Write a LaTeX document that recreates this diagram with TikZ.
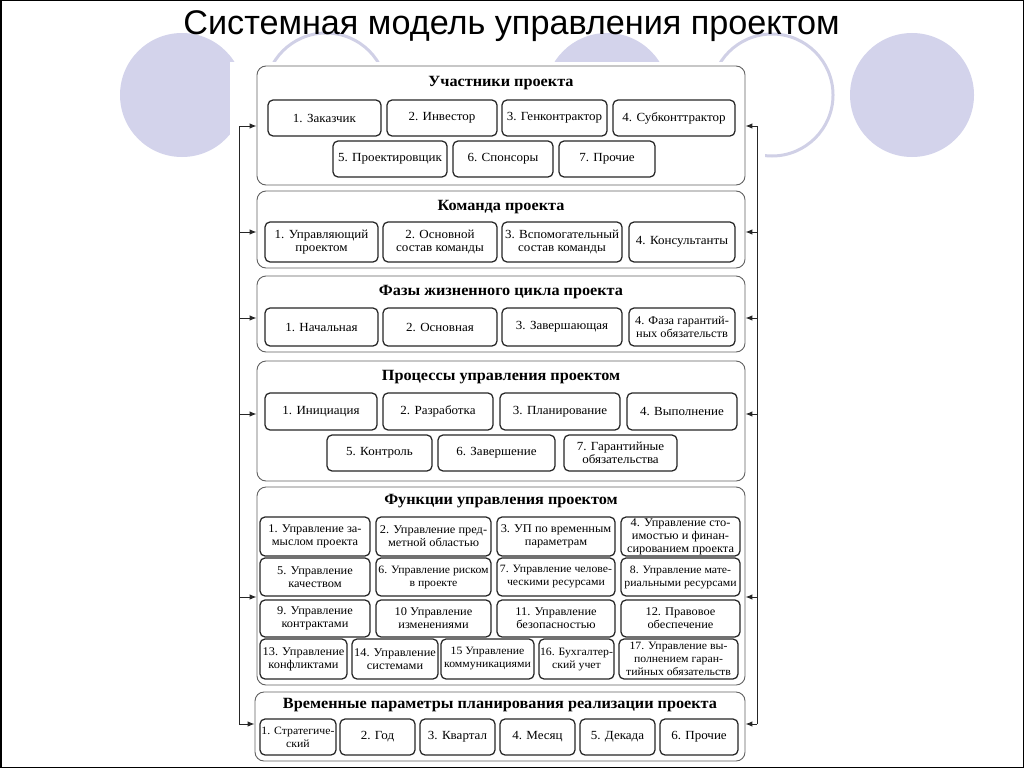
\documentclass[tikz,border=0pt]{standalone}
\usepackage{fontspec}
\setmainfont{Liberation Serif}
\newfontfamily\slidefont{Liberation Sans}
\newfontfamily\scanfont[FakeStretch=1.05]{Liberation Serif}
\newfontfamily\scantitle[FakeStretch=1.04]{Liberation Serif}
\usetikzlibrary{arrows.meta}
\definecolor{lav}{RGB}{211,211,235}
\definecolor{lavring}{RGB}{208,208,230}
\newcommand\IB[7][item]{%
 \pgfmathsetmacro\ibcx{(#3+#4)/2}\pgfmathsetmacro\ibcy{(#5+#6)/2}%
 \pgfmathsetmacro\ibww{#4-#3}\pgfmathsetmacro\ibhh{#6-#5}%
 \node[#1, minimum width=\ibww pt, minimum height=\ibhh pt] (#2) at (\ibcx,\ibcy) {#7};}
\newcommand\SB[7]{%
 \pgfmathsetmacro\ibcx{(#2+#3)/2}\pgfmathsetmacro\ibcy{(#4+#5)/2}%
 \pgfmathsetmacro\ibww{#3-#2}\pgfmathsetmacro\ibhh{#5-#4}%
 \node[sect, minimum width=\ibww pt, minimum height=\ibhh pt] (#1) at (\ibcx,\ibcy) {};
 \node[stitle] (#1t) at (\ibcx,#7) {#6};}
\begin{document}
\begin{tikzpicture}[x=1pt,y=-1pt,
  sect/.style={draw=black!62, line width=0.9pt, rounded corners=9pt, inner sep=0pt},
  ibase/.style={draw=black!85, line width=1.25pt, rounded corners=5pt, inner sep=0pt, align=center},
  item/.style={ibase, font=\scanfont\fontsize{12.4}{13.5}\selectfont},
  fitem/.style={ibase, font=\scanfont\fontsize{11.8}{13}\selectfont},
  sitem/.style={ibase, font=\scanfont\fontsize{11.2}{13}\selectfont},
  stitle/.style={font=\scantitle\fontsize{15.6}{17}\selectfont\bfseries, inner sep=0pt},
  conn/.style={line width=1pt, black!85},
  arr/.style={conn, -{Latex[length=7pt,width=5.5pt]}},
  ring/.style={draw=lavring, line width=3pt},
  disc/.style={fill=lav}]
\useasboundingbox (0,0) rectangle (1024,768);
% background circles
\fill[disc] (182,95) circle (62);
\draw[ring] (326,94) circle (61);
\fill[disc] (607,95) circle (62);
\draw[ring] (772,95) circle (61);
\fill[disc] (912,95) circle (62);
% white scanned page
\fill[white] (230,62) rectangle (765,767);
% title
\node[font=\slidefont\fontsize{34.2}{37}\selectfont, anchor=base, inner sep=0pt] (title) at (511.5,35) {Системная модель управления проектом};
% sections
\SB{s1}{257}{745}{66}{185}{Участники проекта}{83}
\SB{s2}{257}{745}{191}{268}{Команда проекта}{207}
\SB{s3}{257}{745}{276}{352}{Фазы жизненного цикла проекта}{292}
\SB{s4}{257}{745}{361}{481}{Процессы управления проектом}{377}
\SB{s5}{257}{745}{487}{685}{Функции управления проектом}{501}
\SB{s6}{255}{745}{692}{761}{Временные параметры планирования реализации проекта}{705}
% S1
\IB{a1}{268}{381}{100}{136}{1. Заказчик}
\IB{a2}{387}{497}{100}{136}{2. Инвестор}
\IB{a3}{502}{607}{100}{136}{3. Генконтрактор}
\IB{a4}{613}{735}{100}{136}{4. Субконттрактор}
\IB{a5}{333}{447}{141}{177}{5. Проектировщик}
\IB{a6}{453}{553}{141}{177}{6. Спонсоры}
\IB{a7}{559}{655}{141}{177}{7. Прочие}
% S2
\IB{b1}{265}{378}{222}{262}{1. Управляющий\\проектом}
\IB{b2}{383}{497}{222}{262}{2. Основной\\состав команды}
\IB{b3}{502}{622}{222}{262}{3. Вспомогательный\\состав команды}
\IB{b4}{629}{735}{222}{262}{4. Консультанты}
% S3
\IB{c1}{265}{378}{308}{346}{1. Начальная}
\IB{c2}{383}{497}{308}{346}{2. Основная}
\IB{c3}{502}{622}{308}{346}{3. Завершающая}
\IB[fitem]{c4}{629}{735}{308}{346}{4. Фаза гарантий-\\ных обязательств}
% S4
\IB{d1}{265}{377}{393}{430}{1. Инициация}
\IB{d2}{383}{493}{393}{430}{2. Разработка}
\IB{d3}{500}{620}{393}{430}{3. Планирование}
\IB{d4}{627}{737}{393}{430}{4. Выполнение}
\IB{d5}{327}{432}{435}{471}{5. Контроль}
\IB{d6}{438}{555}{435}{471}{6. Завершение}
\IB{d7}{564}{677}{435}{471}{7. Гарантийные\\обязательства}
% S5
\IB[fitem]{e1}{260}{370}{517}{556}{1. Управление за-\\мыслом проекта}
\IB[fitem]{e2}{376}{491}{517}{556}{2. Управление пред-\\метной областью}
\IB[fitem]{e3}{497}{615}{517}{556}{3. УП по временным\\параметрам}
\IB[fitem]{e4}{621}{740}{517}{556}{4. Управление сто-\\имостью и финан-\\сированием проекта}
\IB[fitem]{e5}{260}{370}{558}{596}{5. Управление\\качеством}
\IB[sitem]{e6}{376}{491}{558}{596}{6. Управление риском\\в проекте}
\IB[sitem]{e7}{497}{615}{558}{596}{7. Управление челове-\\ческими ресурсами}
\IB[sitem]{e8}{621}{740}{558}{596}{8. Управление мате-\\риальными ресурсами}
\IB[fitem]{e9}{260}{370}{600}{637}{9. Управление\\контрактами}
\IB[fitem]{e10}{376}{491}{600}{637}{10 Управление\\изменениями}
\IB[fitem]{e11}{497}{615}{600}{637}{11. Управление\\безопасностью}
\IB[fitem]{e12}{621}{740}{600}{637}{12. Правовое\\обеспечение}
\IB[fitem]{e13}{260}{347}{639}{679}{13. Управление\\конфликтами}
\IB[fitem]{e14}{352}{438}{639}{679}{14. Управление\\системами}
\IB[sitem]{e15}{441}{534}{639}{679}{15 Управление\\коммуникациями}
\IB[sitem]{e16}{539}{614}{639}{679}{16. Бухгалтер-\\ский учет}
\IB[sitem]{e17}{619}{738}{639}{679}{17. Управление вы-\\полнением гаран-\\тийных обязательств}
% S6
\IB[sitem]{f1}{260}{336}{719}{755}{1. Стратегиче-\\ский}
\IB{f2}{340}{415}{719}{755}{2. Год}
\IB{f3}{420}{495}{719}{755}{3. Квартал}
\IB{f4}{500}{575}{719}{755}{4. Месяц}
\IB{f5}{580}{655}{719}{755}{5. Декада}
\IB{f6}{660}{738}{719}{755}{6. Прочие}
% connectors
\coordinate (L1) at (239,126); \coordinate (R1) at (757,126);
\coordinate (L2) at (239,232); \coordinate (R2) at (757,232);
\coordinate (L3) at (239,318); \coordinate (R3) at (757,318);
\coordinate (L4) at (239,414); \coordinate (R4) at (757,414);
\coordinate (L5) at (239,597); \coordinate (R5) at (757,597);
\coordinate (L6) at (239,724); \coordinate (R6) at (757,724);
\draw[conn] (L1) -- (L6);
\draw[conn] (R1) -- (R6);
\foreach \i in {1,...,6} {
  \draw[arr] (L\i) -- (L\i -| s\i.west);
  \draw[arr] (R\i) -- (R\i -| s\i.east);
}
% slide frame
\draw[line width=1.5pt] (0.75,0.75) rectangle (1023.25,767.25);
\end{tikzpicture}
\end{document}
